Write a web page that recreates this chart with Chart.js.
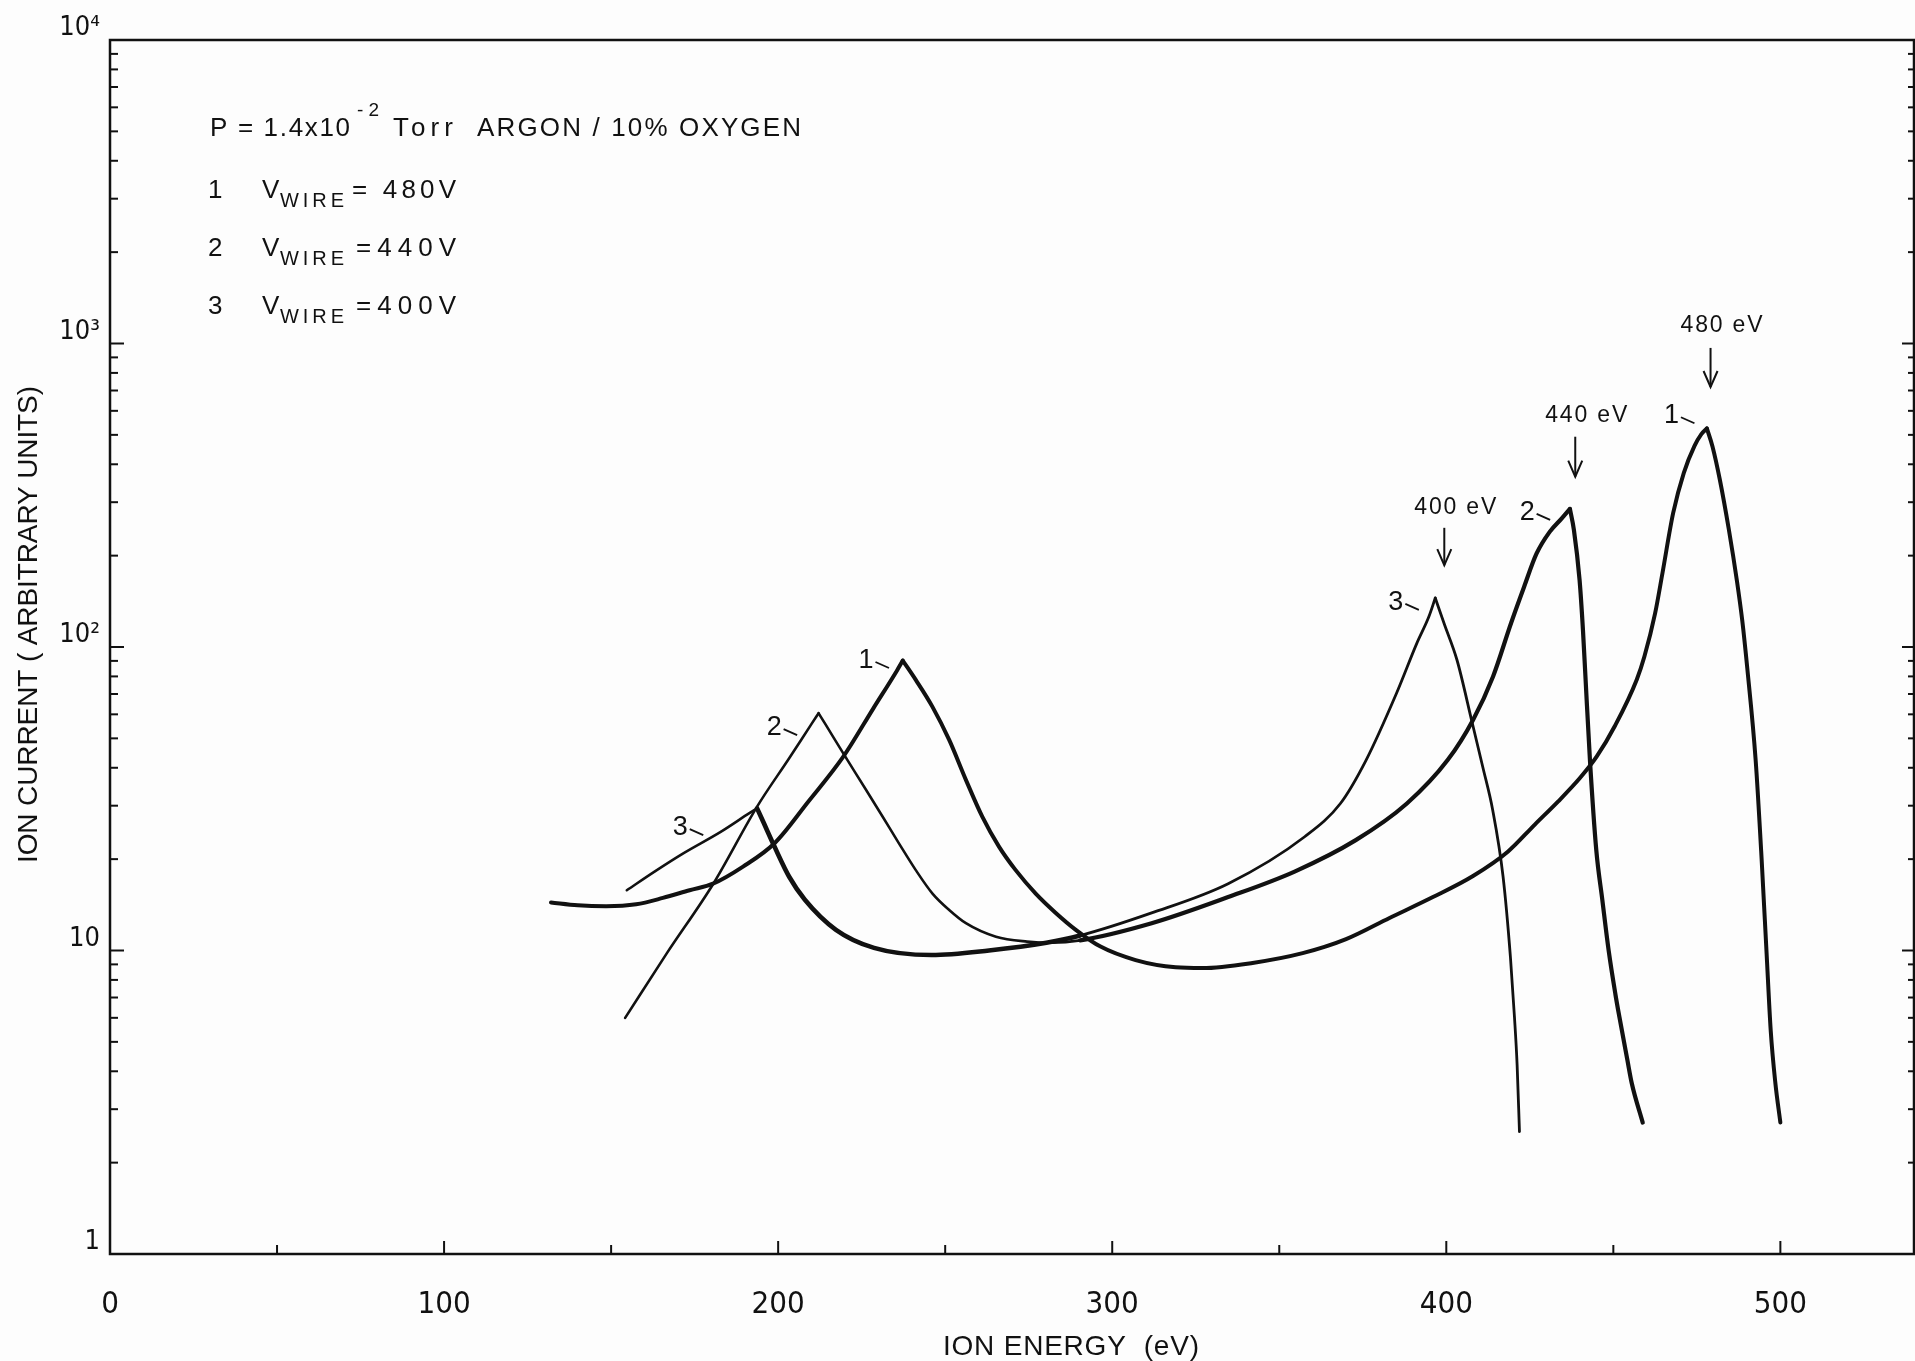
<!DOCTYPE html>
<html>
<head>
<meta charset="utf-8">
<title>Ion energy distribution</title>
<script src="https://cdn.jsdelivr.net/npm/chart.js@4.4.1/dist/chart.umd.min.js"></script>
<style>
  html, body { margin: 0; padding: 0; background: #fdfdfd; }
  #ionChart { display: block; }
</style>
</head>
<body>
<canvas id="ionChart" width="1915" height="1361"></canvas>
<script>
const ink = '#111';
const narrow = "'Liberation Sans Narrow', 'DejaVu Sans Condensed', 'Roboto Condensed', sans-serif";
const plain = "'Liberation Sans', Arimo, 'DejaVu Sans', sans-serif";

// curve 1 : V_wire = 480 V
const energy1 = [132, 140, 148.5, 157.5, 165.5, 173.5, 180.5, 189.5, 199, 209,
    219.5, 228.5, 235.5, 237.3, 241.2, 246.2, 251.2, 256.2, 261.1, 266.1,
    271.1, 277.1, 283.1, 289.1, 296.5, 307, 319, 327, 342, 357,
    370, 383, 396, 408, 418.5, 426.5, 433.5, 440, 445, 450.5,
    457, 459.3, 462.5, 464.7, 467.9, 471.1, 474.3, 476.3, 478, 479.7,
    481.9, 484.6, 487, 488.6, 490.1, 492.6, 494.4, 495.9, 497.1, 498.5, 500];
const current1 = [14.4, 14.1, 14.0, 14.2, 14.9, 15.8, 16.6, 18.9, 22.6, 30.9,
    43.5, 62.8, 83.4, 90.2, 77.9, 63.5, 49.4, 36.5, 27.6, 22,
    18.4, 15.4, 13.3, 11.7, 10.3, 9.3, 8.8, 8.75, 9.1, 9.8,
    10.9, 12.8, 15.0, 17.6, 21.2, 26, 31, 37, 43.5, 55,
    78, 93, 129, 175, 276, 375, 460, 502, 525, 457,
    355, 243, 165, 122, 85, 42.4, 19.9, 9.67, 5.47, 3.66, 2.71];

// curve 2 : V_wire = 440 V
const energy2 = [154.2, 166.7, 180.6, 193.7, 203.3, 210, 212.1, 214, 219.5, 226.2,
    231.2, 236.2, 241.2, 246.2, 251.2, 256.2, 265.2, 274.5, 282, 290.4,
    311.8, 334.7, 354.6, 372.9, 388.2, 400.4, 408, 414, 419.4, 423.3,
    427, 431, 434.5, 437, 438.2, 439.9, 440.9, 441.7, 443, 444.9,
    446.7, 448.6, 450.6, 451.8, 454.2, 455.5, 458.8];
const current2 = [6.0, 9.8, 16.6, 29.8, 43, 55.8, 60.5, 56, 44.6, 34,
    27.7, 22.5, 18.4, 15.4, 13.6, 12.3, 11.1, 10.7, 10.6, 10.8,
    12.3, 15.0, 18.2, 23.1, 30.5, 42.4, 57.5, 80, 120, 158,
    203, 240, 265, 285, 243, 166, 114, 78, 42.4, 21.4,
    14.7, 10.0, 7.2, 6.05, 4.36, 3.66, 2.71];

// curve 3 : V_wire = 400 V
const energy3 = [154.7, 163, 171.6, 182.8, 191.5, 193.7, 195.5, 198.9, 203.3, 208,
    217.3, 228.7, 245.9, 263.1, 280.3, 290.4, 311.8, 334.7, 357.6, 368.3,
    376, 385.1, 391.2, 394.8, 396.7, 399.4, 403.2, 407.8, 410.9, 413.9,
    417, 419.2, 420.4, 421.2, 421.9];
const current3 = [15.8, 18.2, 20.9, 24.6, 28.4, 29.4, 26.6, 22, 17.5, 14.7,
    11.7, 10.2, 9.66, 10.0, 10.6, 11.2, 13.3, 16.6, 23.7, 30.5,
    42.4, 70.4, 103, 126, 145, 119, 90.6, 56, 40.3, 29,
    17.5, 9.5, 6.05, 4.2, 2.53];

const xTickValues = [0, 100, 200, 300, 400, 500];
const xTickLabels = ['0', '100', '200', '300', '400', '500'];
const yTickValues = [1, 10, 100, 1000, 10000];
const yTickLabels = ['1', '10', '10\u00b2', '10\u00b3', '10\u2074'];

// sharp peaks (the pen turns there): energies where each trace is split
const cusps = [[237.3, 478], [212.1, 437], [193.7, 396.7]];

// arrows over the main peaks (data units)
const peakMarks = [
    { text: '480 eV', x: 479.1, label: 1159, top: 967, tip: 719 },
    { text: '440 eV', x: 438.6, label: 586, top: 493, tip: 364 },
    { text: '400 eV', x: 399.4, label: 291, top: 247, tip: 186 }
];
// curve numbers beside the peaks
const curveTags = [
    { text: '1', x: 226.3, y: 92 }, { text: '2', x: 198.8, y: 55.3 }, { text: '3', x: 170.7, y: 25.9 },
    { text: '1', x: 467.4, y: 589 }, { text: '2', x: 424.2, y: 283 }, { text: '3', x: 384.9, y: 143 }
];

// pen width changes along each trace
const penWidths = [
    [{ from: 0, w: 4 }],
    [{ from: 0, w: 2.6 }, { from: 290, w: 4.2 }],
    [{ from: 0, w: 2.6 }, { from: 193, w: 4.6 }, { from: 290, w: 2.8 }]
];

const pen = i => c => {
    let w = 3;
    for (const p of penWidths[i]) if (c.p0.parsed.x >= p.from) w = p.w;
    return w;
};
// cut a trace into runs that meet at its cusps
function runs(xs, ys, cuts) {
    const out = [];
    let cur = [];
    xs.forEach((x, i) => {
        cur.push({ x: x, y: ys[i] });
        if (cuts.includes(x)) { out.push(cur); cur = [{ x: x, y: ys[i] }]; }
    });
    out.push(cur);
    return out;
}
const traces = [[energy1, current1], [energy2, current2], [energy3, current3]];
const datasets = [];
traces.forEach(([xs, ys], i) => {
    runs(xs, ys, cusps[i]).forEach((r, k) => {
        datasets.push({ label: (i + 1) + '.' + k, data: r, segment: { borderWidth: pen(i) } });
    });
});

function fitText(ctx, text, x, y, width) {
    ctx.letterSpacing = '0px';
    const n = [...text].length;
    const w0 = ctx.measureText(text).width;
    if (n > 1) ctx.letterSpacing = ((width - w0) / (n - 1)) + 'px';
    ctx.fillText(text, x, y);
    ctx.letterSpacing = '0px';
}
const font = s => s + 'px ' + plain;

const markings = {
    id: 'markings',
    afterDraw(chart) {
        const { ctx, chartArea: a, scales: { x, y } } = chart;
        const line = (x0, y0, x1, y1) => { ctx.beginPath(); ctx.moveTo(x0, y0); ctx.lineTo(x1, y1); ctx.stroke(); };
        ctx.save();
        ctx.strokeStyle = ink;
        ctx.fillStyle = ink;
        ctx.textAlign = 'left';
        ctx.textBaseline = 'alphabetic';

        // frame
        ctx.lineWidth = 2.5;
        ctx.strokeRect(a.left, a.top, a.right - a.left, a.bottom - a.top);

        // log ticks, inside on both sides
        ctx.lineWidth = 2;
        y.ticks.forEach(t => {
            const py = y.getPixelForValue(t.value);
            const lg = Math.log10(t.value);
            const major = Math.abs(lg - Math.round(lg)) < 1e-9;
            line(a.left, py, a.left + (major ? 14 : 8), py);
            line(a.right, py, a.right - (major ? 12 : 6), py);
        });
        // energy ticks
        x.ticks.forEach(t => {
            if (t.value <= 0 || t.value > 500 || t.value % 50) return;
            const px = x.getPixelForValue(t.value);
            line(px, a.bottom, px, a.bottom - (t.value % 100 ? 9 : 13));
        });

        // peak arrows
        ctx.font = font(23);
        peakMarks.forEach(m => {
            const px = x.getPixelForValue(m.x);
            const ty = y.getPixelForValue(m.tip);
            fitText(ctx, m.text, px + 11 - 41, y.getPixelForValue(m.label) + 8, 82);
            line(px, y.getPixelForValue(m.top), px, ty);
            ctx.beginPath();
            ctx.moveTo(px - 7, ty - 16);
            ctx.lineTo(px, ty);
            ctx.lineTo(px + 7, ty - 16);
            ctx.stroke();
        });

        // curve numbers with leader dashes
        ctx.font = font(27);
        ctx.textAlign = 'center';
        ctx.lineWidth = 1.8;
        curveTags.forEach(c => {
            const px = x.getPixelForValue(c.x);
            const py = y.getPixelForValue(c.y);
            ctx.fillText(c.text, px, py + 10);
            line(px + 9.5, py + 4, px + 23, py + 10);
        });
        ctx.textAlign = 'left';

        // condition block
        ctx.font = font(26);
        fitText(ctx, 'P = 1.4x10', 210, 136, 140);
        ctx.font = font(19);
        fitText(ctx, '-2', 357, 116, 22);
        ctx.font = font(26);
        fitText(ctx, 'Torr', 393, 136, 60);
        fitText(ctx, 'ARGON / 10% OXYGEN', 477, 136, 324);
        const wires = [['1', '= 480V', 198, 352, 104], ['2', '=440V', 256, 356, 100], ['3', '=400V', 314, 356, 100]];
        wires.forEach(([n, v, base, vx, vw]) => {
            ctx.font = font(26);
            ctx.fillText(n, 208, base);
            ctx.fillText('V', 262, base);
            fitText(ctx, v, vx, base, vw);
            ctx.font = font(20);
            fitText(ctx, 'WIRE', 280, base + 9, 64);
        });

        // axis titles
        ctx.font = font(28);
        fitText(ctx, 'ION ENERGY  (eV)', 943, 1355, 256);
        ctx.translate(37, 625);
        ctx.rotate(-Math.PI / 2);
        fitText(ctx, 'ION CURRENT ( ARBITRARY UNITS)', -238, 0, 477);
        ctx.restore();
    }
};

const config = {
    type: 'line',
    data: { datasets: datasets },
    options: {
        responsive: false,
        devicePixelRatio: 1,
        animation: false,
        layout: { autoPadding: false, padding: { top: 40, right: 1, left: 0, bottom: 0 } },
        elements: {
            point: { radius: 0 },
            line: { borderColor: ink, borderWidth: 3, cubicInterpolationMode: 'monotone', borderCapStyle: 'round', borderJoinStyle: 'round' }
        },
        plugins: {
            legend: { display: false },
            tooltip: { enabled: false }
        },
        scales: {
            x: {
                type: 'linear',
                min: 0,
                max: 540,
                grid: { display: false, drawTicks: false },
                border: { display: false },
                ticks: {
                    stepSize: 50,
                    autoSkip: false,
                    maxRotation: 0,
                    padding: 32,
                    color: ink,
                    font: { family: narrow, size: 31 },
                    callback: v => { const i = xTickValues.indexOf(v); return i < 0 ? '' : xTickLabels[i]; }
                },
                afterFit: s => { s.height = 107; s.paddingLeft = 0; s.paddingRight = 0; }
            },
            y: {
                type: 'logarithmic',
                min: 1,
                max: 10000,
                grid: { display: false, drawTicks: false },
                border: { display: false },
                afterBuildTicks: s => {
                    const t = [];
                    for (let d = 1; d < 10000; d *= 10) for (let m = 1; m < 10; m++) t.push({ value: m * d });
                    t.push({ value: 10000 });
                    s.ticks = t;
                },
                ticks: {
                    autoSkip: false,
                    padding: 10,
                    labelOffset: -12,
                    color: ink,
                    font: { family: narrow, size: 27 },
                    callback: v => { const i = yTickValues.indexOf(v); return i < 0 ? '' : yTickLabels[i]; }
                },
                afterFit: s => { s.width = 110; s.paddingTop = 0; s.paddingBottom = 0; }
            }
        }
    },
    plugins: [markings]
};

const ionChart = new Chart(document.getElementById('ionChart'), config);
</script>
</body>
</html>
